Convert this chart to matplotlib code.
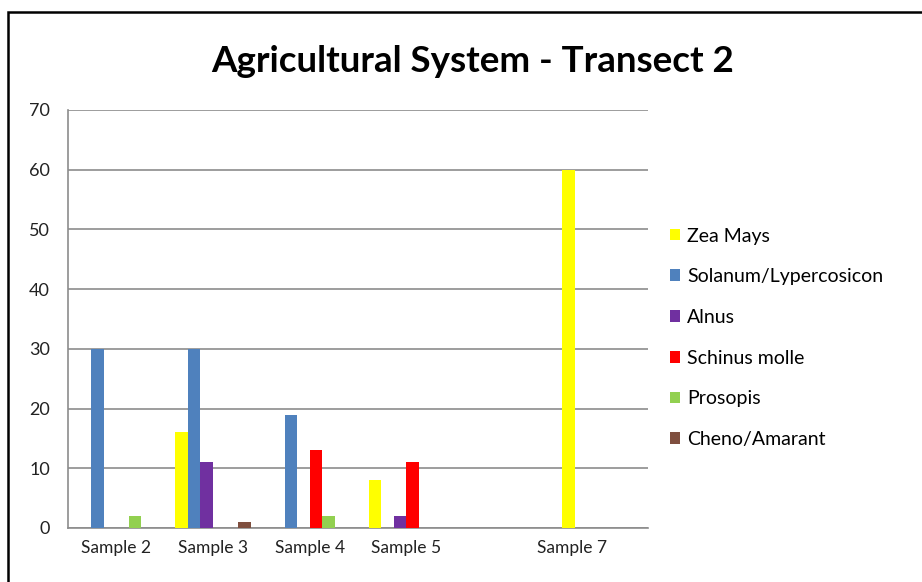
import numpy as np
import matplotlib.pyplot as plt
import matplotlib.transforms as mtransforms
from matplotlib.patches import Rectangle

plt.rcParams['font.family'] = ['Lato', 'DejaVu Sans']

samples = ["Sample 2", "Sample 3", "Sample 4", "Sample 5", "", "Sample 7"]
series = ["Zea Mays", "Solanum/Lypercosicon", "Alnus", "Schinus molle", "Prosopis", "Cheno/Amarant"]
zea_mays = [0, 16, 0, 8, 0, 60]
solanum = [30, 30, 19, 0, 0, 0]
alnus = [0, 11, 0, 2, 0, 0]
schinus = [0, 0, 13, 11, 0, 0]
prosopis = [2, 0, 2, 0, 0, 0]
cheno = [0, 1, 0, 0, 0, 0]
colors = ["#FFFF00", "#4F81BD", "#7030A0", "#FF0000", "#92D050", "#7F4F3F"]

values = [zea_mays, solanum, alnus, schinus, prosopis, cheno]

fig = plt.figure(figsize=(9.22, 5.82), dpi=100)
ax = fig.add_axes([68/922, 54/582, 580/922, 418/582])

x = np.arange(len(samples))
w = 0.13
for k, (name, vals, c) in enumerate(zip(series, values, colors)):
    ax.bar(x + (k - 2.5) * w, vals, w, color=c, label=name, zorder=3)

ax.set_xlim(-0.5, len(samples) - 0.5)
ax.set_ylim(0, 70)
ax.set_yticks(range(0, 71, 10))
ax.set_xticks(x)
ax.set_xticklabels(samples, fontsize=12.5, color="#222222")
ax.tick_params(axis='y', labelsize=13, colors="#222222", length=0, pad=13)
ax.tick_params(axis='x', length=0, pad=9)
ax.yaxis.grid(True, color="#8C8C8C", linewidth=1.2, zorder=0)
for s in ["top", "right"]:
    ax.spines[s].set_visible(False)
for s in ["left", "bottom"]:
    ax.spines[s].set_color("#8C8C8C")
    ax.spines[s].set_linewidth(1.2)

# last label sits left of its group in the original
lbl = ax.get_xticklabels()[-1]
lbl.set_transform(lbl.get_transform() + mtransforms.ScaledTranslation(-0.28, 0, fig.dpi_scale_trans))

fig.text(473/922, 1 - 61/582, "Agricultural System - Transect 2", ha="center", va="center",
         fontsize=26.5, fontweight="bold")

ax.legend(loc="upper left", bbox_to_anchor=(652/922, 1 - 210/582), bbox_transform=fig.transFigure,
          frameon=False, fontsize=14, handlelength=0.55, handleheight=0.55, handletextpad=0.35,
          labelspacing=1.22)

# outer frame (top and left edges visible)
fig.patches.append(Rectangle((8/922, -0.1), 1.2, 1 - 12/582 + 0.1, transform=fig.transFigure,
                             fill=False, edgecolor="black", linewidth=1.8))

fig.savefig("out.png", dpi=100)
